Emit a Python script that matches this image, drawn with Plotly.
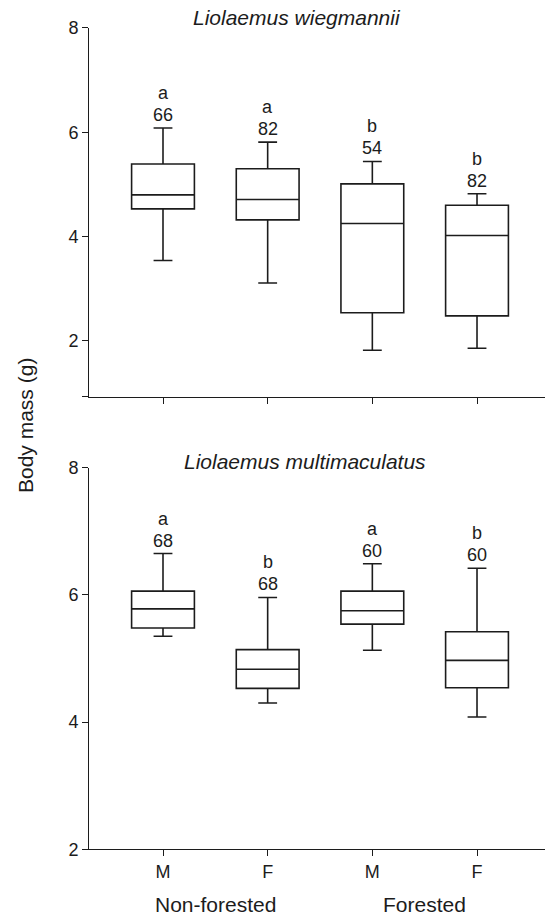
import plotly.graph_objects as go

# ---------------- data ----------------
sex_labels = ["M", "F", "M", "F"]
habitat_labels = ["Non-forested", "Forested"]
positions = [0, 1, 2, 3]

# Liolaemus wiegmannii
w_low = [3.54, 3.11, 1.82, 1.86]
w_q1 = [4.53, 4.32, 2.54, 2.48]
w_med = [4.80, 4.71, 4.25, 4.02]
w_q3 = [5.39, 5.30, 5.01, 4.60]
w_high = [6.08, 5.81, 5.44, 4.82]
w_n = [66, 82, 54, 82]
w_letters = ["a", "a", "b", "b"]

# Liolaemus multimaculatus
m_low = [5.35, 4.30, 5.13, 4.08]
m_q1 = [5.48, 4.53, 5.54, 4.54]
m_med = [5.78, 4.83, 5.75, 4.97]
m_q3 = [6.06, 5.14, 6.06, 5.42]
m_high = [6.65, 5.96, 6.49, 6.42]
m_n = [68, 68, 60, 60]
m_letters = ["a", "b", "a", "b"]

top_title = "Liolaemus wiegmannii"
bottom_title = "Liolaemus multimaculatus"
y_title = "Body mass (g)"
y_ticks = [2, 4, 6, 8]
top_y_min = 0.93
bottom_y_min = 2

# ---------------- style ----------------
W, H = 545, 915
FONT = "Liberation Sans, Arial, Helvetica, sans-serif"
INK = "#1c1c1c"
LW = 1.3


def py(p):
    return 1 - p / H


fig = go.Figure()

for xa, ya, lo, q1, med, q3, hi in [
    ("x", "y", w_low, w_q1, w_med, w_q3, w_high),
    ("x2", "y2", m_low, m_q1, m_med, m_q3, m_high),
]:
    fig.add_trace(go.Box(
        x=positions, q1=q1, median=med, q3=q3,
        lowerfence=lo, upperfence=hi,
        width=0.6, whiskerwidth=0.3,
        fillcolor="white",
        line=dict(color=INK, width=1.6),
        boxpoints=False, hoverinfo="skip", showlegend=False,
        xaxis=xa, yaxis=ya,
    ))

annotations = []
for xr, yr, hi, ns, letters in [
    ("x", "y", w_high, w_n, w_letters),
    ("x2", "y2", m_high, m_n, m_letters),
]:
    for p, h, n, l in zip(positions, hi, ns, letters):
        annotations.append(dict(x=p, y=h, xref=xr, yref=yr, text=str(n),
                                showarrow=False, yanchor="middle", yshift=13,
                                font=dict(size=18, color=INK, family=FONT)))
        annotations.append(dict(x=p, y=h, xref=xr, yref=yr, text=l,
                                showarrow=False, yanchor="middle", yshift=35,
                                font=dict(size=18, color=INK, family=FONT)))

# panel titles
annotations.append(dict(x=297 / W, y=py(18), xref="paper", yref="paper",
                        text="<i>" + top_title + "</i>", showarrow=False,
                        xanchor="center", yanchor="middle",
                        font=dict(size=21, color=INK, family=FONT)))
annotations.append(dict(x=305 / W, y=py(461), xref="paper", yref="paper",
                        text="<i>" + bottom_title + "</i>", showarrow=False,
                        xanchor="center", yanchor="middle",
                        font=dict(size=21, color=INK, family=FONT)))
# habitat group labels
for i, hname in enumerate(habitat_labels):
    annotations.append(dict(x=0.5 + 2 * i, y=py(904), xref="x2", yref="paper",
                            text=hname, showarrow=False,
                            xanchor="center", yanchor="middle",
                            font=dict(size=21, color=INK, family=FONT)))
# y-axis title
annotations.append(dict(x=25 / W, y=py(426), xref="paper", yref="paper",
                        text=y_title, textangle=-90, showarrow=False,
                        xanchor="center", yanchor="middle",
                        font=dict(size=21, color=INK, family=FONT)))

x_domain = [89.3 / W, 1.0]
x_range = [(89.3 - 163) / 104.67, (545 - 163) / 104.67]

common_x = dict(domain=x_domain, range=x_range, showline=True, linecolor=INK,
                linewidth=LW, ticks="outside", ticklen=6, tickwidth=LW,
                tickcolor=INK, tickvals=positions, showgrid=False,
                zeroline=False, fixedrange=True, automargin=False)
common_y = dict(showline=True, linecolor=INK, linewidth=LW, ticks="outside",
                ticklen=6, tickwidth=LW, tickcolor=INK, showgrid=False,
                zeroline=False, fixedrange=True, automargin=False,
                tickfont=dict(size=18, color=INK, family=FONT))

fig.update_layout(
    template="none",
    width=W, height=H,
    margin=dict(l=0, r=0, t=0, b=0, pad=0, autoexpand=False),
    paper_bgcolor="white", plot_bgcolor="white",
    font=dict(family=FONT, color=INK),
    xaxis=dict(common_x, anchor="y", showticklabels=False),
    yaxis=dict(common_y, anchor="x",
               domain=[py(396.7), py(27.9)], range=[top_y_min, 8],
               tickvals=[top_y_min] + y_ticks,
               ticktext=[""] + [str(t) for t in y_ticks]),
    xaxis2=dict(common_x, anchor="y2", ticktext=sex_labels,
                tickfont=dict(size=18, color=INK, family=FONT)),
    yaxis2=dict(common_y, anchor="x2",
                domain=[py(849.3), py(467.7)], range=[bottom_y_min, 8],
                tickvals=y_ticks, ticktext=[str(t) for t in y_ticks]),
    annotations=annotations,
)

fig.write_html(
    "out.html",
    config={"displayModeBar": False},
    post_script="document.body.style.margin='0';document.body.style.padding='0';"
                "document.body.style.overflow='hidden';",
)
